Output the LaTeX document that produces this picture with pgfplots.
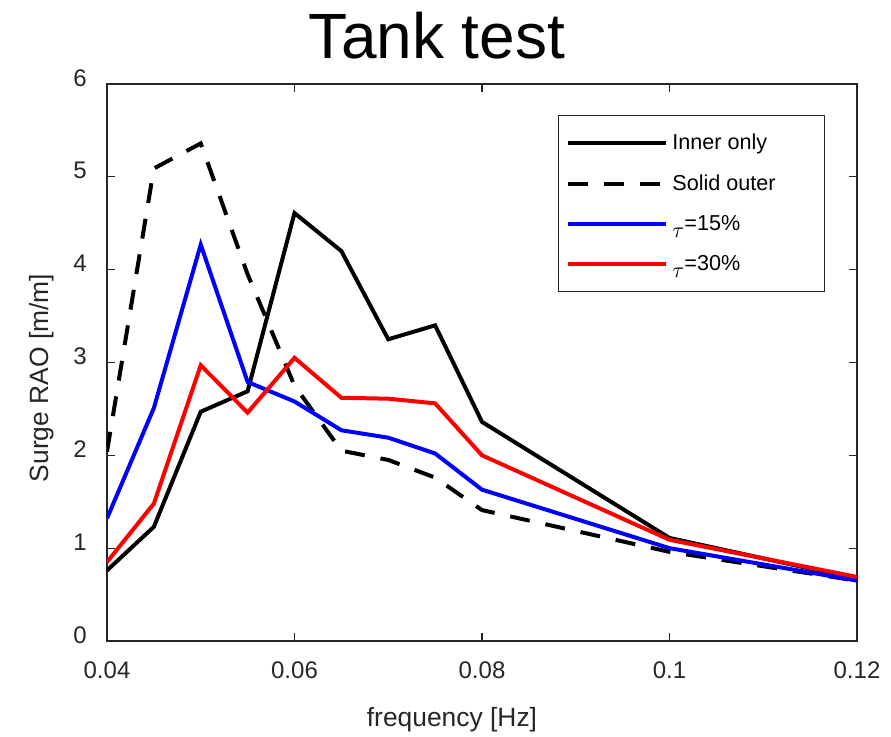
\documentclass[border=0pt]{standalone}
\usepackage{fontspec}
\setmainfont{Liberation Sans}
\usepackage{pgfplots}
\pgfplotsset{compat=1.18}
\definecolor{axgray}{HTML}{262626}

\begin{document}
\begin{tikzpicture}
\begin{axis}[
  scale only axis,
  width=375pt, height=278.5pt,
  xmin=0.04, xmax=0.12, ymin=0, ymax=6,
  xtick={0.04,0.06,...,0.12},
  xticklabels={0.04,0.06,0.08,0.1,0.12},
  ytick={0,1,...,6},
  tick align=inside,
  major tick length=4pt,
  axis line style={axgray, line width=0.6pt},
  every tick/.style={axgray, line width=0.6pt},
  /pgf/number format/assume math mode=true,
  tick label style={font=\fontsize{12}{14}\selectfont, text=axgray},
  xticklabel style={anchor=north, inner sep=0pt, yshift=-10pt},
  yticklabel style={anchor=east, inner sep=0pt, xshift=-10pt, yshift=3pt},
  title={Tank test},
  title style={at={(axis description cs:0.44,1)}, anchor=base, yshift=6.5pt,
    font=\fontsize{32}{38}\selectfont},
  xlabel={frequency [Hz]},
  xlabel style={at={(axis description cs:0.46,0)}, anchor=base, yshift=-43pt,
    font=\fontsize{13.2}{15}\selectfont, text=axgray},
  ylabel={Surge RAO [m/m]},
  ylabel style={at={(axis description cs:-0.0867,0.472)}, anchor=center, rotate=0,
    font=\fontsize{13.2}{15}\selectfont, text=axgray},
  legend style={at={(axis description cs:0.601,0.944)}, anchor=north west,
    draw=axgray, line width=0.6pt, fill=white,
    font=\fontsize{10.8}{13}\selectfont,
    inner xsep=4pt, inner ysep=8pt,
    row sep=9pt,
    nodes={inner xsep=2pt, inner ysep=1pt}},
  legend cell align=left,
  legend image code/.code={\draw[#1] (0pt,0pt) -- (49pt,0pt);},
  every axis plot/.append style={line width=2pt, line join=miter},
]
\addplot[black] coordinates {
(0.04,0.76) (0.045,1.23) (0.05,2.47) (0.055,2.69) (0.06,4.61) (0.065,4.20)
(0.07,3.25) (0.075,3.40) (0.08,2.36) (0.1,1.11) (0.12,0.67)};
\addlegendentry{\makebox[70pt][l]{Inner only}}
\addplot[black, dash pattern=on 10pt off 8pt] coordinates {
(0.04,2.04) (0.045,5.09) (0.05,5.36) (0.055,3.95) (0.06,2.75) (0.065,2.05)
(0.07,1.95) (0.075,1.76) (0.08,1.41) (0.1,0.96) (0.12,0.65)};
\addlegendentry{Solid outer}
\addplot[blue] coordinates {
(0.04,1.32) (0.045,2.51) (0.05,4.27) (0.055,2.79) (0.06,2.58) (0.065,2.27)
(0.07,2.19) (0.075,2.02) (0.08,1.63) (0.1,1.00) (0.12,0.65)};
\addlegendentry{\raisebox{-3.5pt}{$\tau$}=15\%}
\addplot[red] coordinates {
(0.04,0.85) (0.045,1.48) (0.05,2.97) (0.055,2.46) (0.06,3.05) (0.065,2.62)
(0.07,2.61) (0.075,2.56) (0.08,2.00) (0.1,1.09) (0.12,0.69)};
\addlegendentry{\raisebox{-3.5pt}{$\tau$}=30\%}
\end{axis}
\pgfresetboundingbox
\path[use as bounding box] (-53.5pt,-48pt) rectangle (392pt,320.5pt);
\end{tikzpicture}
\end{document}
